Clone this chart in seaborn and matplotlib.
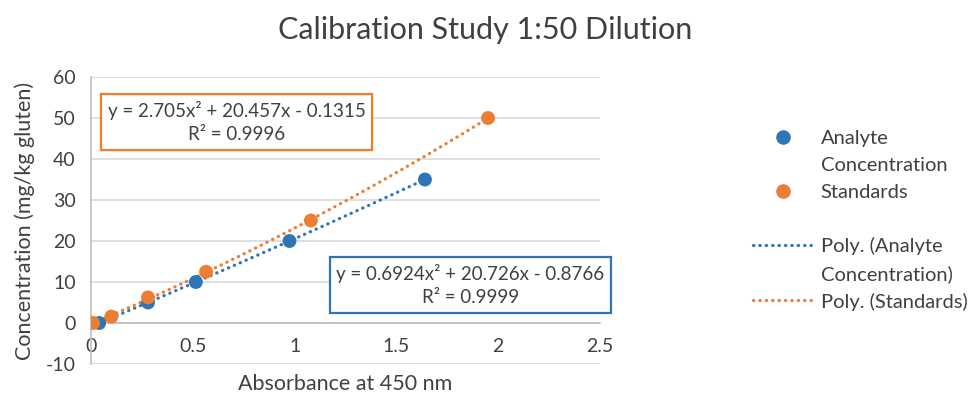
import matplotlib
matplotlib.use("Agg")
import matplotlib.pyplot as plt
from matplotlib.lines import Line2D
import seaborn as sns
import numpy as np

# Data
analyte_x = [0.04, 0.28, 0.515, 0.975, 1.64]
analyte_y = [0, 5, 10, 20, 35]
standards_x = [0.01, 0.10, 0.28, 0.565, 1.08, 1.95]
standards_y = [0, 1.5625, 6.25, 12.5, 25, 50]
x_ticks = [0, 0.5, 1, 1.5, 2, 2.5]
y_ticks = [-10, 0, 10, 20, 30, 40, 50, 60]
eq_standards = "y = 2.705x\u00b2 + 20.457x - 0.1315\nR\u00b2 = 0.9996"
eq_analyte = "y = 0.6924x\u00b2 + 20.726x - 0.8766\nR\u00b2 = 0.9999"

BLUE = "#2E75B6"
ORANGE = "#ED7D31"
TXT = "#404040"
GRID = "#D9D9D9"
DOT = (0, (0.1, 1.9))

sns.set_theme(style="white")
plt.rcParams["font.family"] = ["Lato", "DejaVu Sans"]
plt.rcParams["text.color"] = TXT

fig = plt.figure(figsize=(9.71, 3.93), dpi=100)
ax = fig.add_axes([91 / 971, 1 - 364 / 393, (600 - 91) / 971, (364 - 77) / 393])

# trendlines (2nd order polynomial)
sns.regplot(x=analyte_x, y=analyte_y, order=2, ci=None, scatter=False, ax=ax,
            line_kws=dict(color=BLUE, ls=DOT, lw=2.3, dash_capstyle="round"))
sns.regplot(x=standards_x, y=standards_y, order=2, ci=None, scatter=False, ax=ax,
            line_kws=dict(color=ORANGE, ls=DOT, lw=2.3, dash_capstyle="round"))

sns.scatterplot(x=analyte_x, y=analyte_y, color=BLUE, s=100, edgecolor="none", ax=ax, zorder=4)
sns.scatterplot(x=standards_x, y=standards_y, color=ORANGE, s=100, edgecolor="none", ax=ax, zorder=5)

ax.set_xlim(0, 2.5)
ax.set_ylim(-10, 60)
ax.set_xticks(x_ticks)
ax.set_xticklabels([f"{t:g}" for t in x_ticks])
ax.set_yticks(y_ticks)
ax.set_yticklabels([f"{t:g}" for t in y_ticks])
ax.grid(axis="y", color=GRID, lw=1.2)
ax.set_axisbelow(True)
for s in ["top", "right"]:
    ax.spines[s].set_visible(False)
ax.spines["left"].set_color("#BFBFBF")
ax.spines["left"].set_linewidth(1.2)
ax.spines["bottom"].set_position(("data", 0))
ax.spines["bottom"].set_color("#BFBFBF")
ax.spines["bottom"].set_linewidth(1.2)
ax.tick_params(axis="x", length=0, pad=11, labelsize=14, labelcolor=TXT)
ax.tick_params(axis="y", length=0, pad=11, labelsize=14, labelcolor=TXT)

ax.set_xlabel("Absorbance at 450 nm", fontsize=15.5, color=TXT, labelpad=0)
ax.xaxis.set_label_coords(0.5, -0.035)
ax.set_ylabel("Concentration (mg/kg gluten)", fontsize=15.5, color=TXT)
ax.yaxis.set_label_coords(-0.11, 0.5)

fig.text(0.5, 1 - 30 / 393, "Calibration Study 1:50 Dilution", ha="center", va="center",
         fontsize=22, color=TXT)

ax.text(0.715, 49, eq_standards, ha="center", va="center", fontsize=13.5, color=TXT,
        linespacing=1.45,
        bbox=dict(boxstyle="square,pad=0.35", fc="white", ec=ORANGE, lw=1.6), zorder=6)
ax.text(1.864, 9.3, eq_analyte, ha="center", va="center", fontsize=13.5, color=TXT,
        linespacing=1.45,
        bbox=dict(boxstyle="square,pad=0.35", fc="white", ec=BLUE, lw=1.6), zorder=6,
        clip_on=False)

blank = Line2D([], [], ls="none")
handles = [
    Line2D([], [], ls="none", marker="o", ms=10.5, color=BLUE, mec="none"),
    blank,
    Line2D([], [], ls="none", marker="o", ms=10.5, color=ORANGE, mec="none"),
    blank,
    Line2D([], [], color=BLUE, ls=DOT, lw=2.3, dash_capstyle="round"),
    blank,
    Line2D([], [], color=ORANGE, ls=DOT, lw=2.3, dash_capstyle="round"),
]
labels = ["Analyte", "Concentration", "Standards", " ", "Poly. (Analyte",
          "Concentration)", "Poly. (Standards)"]
leg = fig.legend(handles, labels, loc="upper left", bbox_to_anchor=(735 / 971, 1 - 112 / 393),
                 frameon=False, fontsize=14.5, handlelength=3.0, handletextpad=0.35,
                 labelspacing=0.48, labelcolor=TXT)

fig.savefig("out.png", dpi=100)
